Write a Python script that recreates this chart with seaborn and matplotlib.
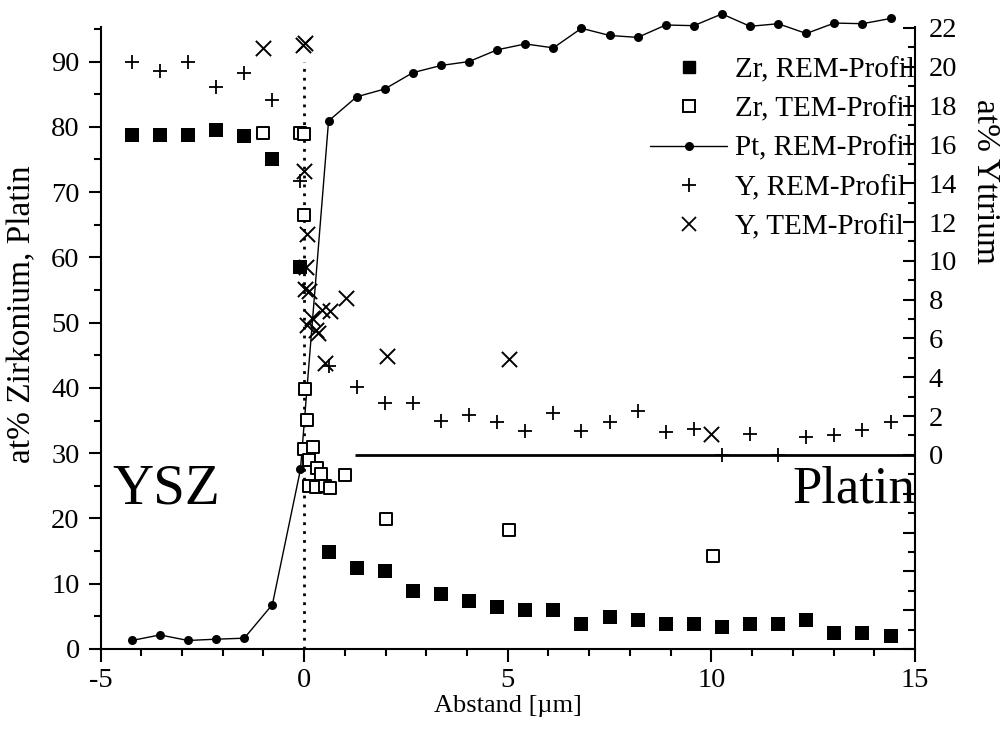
import numpy as np
import pandas as pd
import matplotlib
matplotlib.use("Agg")
import matplotlib.pyplot as plt
import seaborn as sns
from matplotlib.lines import Line2D
from matplotlib.ticker import MultipleLocator, FuncFormatter

sns.set_style("ticks")
plt.rcParams['font.family'] = ['Liberation Serif', 'DejaVu Serif']
for k in ("text.color", "axes.labelcolor", "xtick.color", "ytick.color", "axes.edgecolor"):
    plt.rcParams[k] = "black"

# ---- data ----
rem_x = [-4.23, -3.54, -2.85, -2.16, -1.47, -0.78, -0.09, 0.60, 1.29, 1.98, 2.67, 3.36,
         4.05, 4.74, 5.43, 6.12, 6.81, 7.50, 8.19, 8.88, 9.57, 10.26, 10.95, 11.64,
         12.33, 13.02, 13.71, 14.40]
zr_rem = [78.8, 78.8, 78.8, 79.5, 78.6, 75.0, 58.5, 14.9, 12.4, 12.0, 8.9, 8.4,
          7.4, 6.4, 6.0, 6.0, 3.9, 4.9, 4.4, 3.9, 3.9, 3.4, 3.9, 3.9,
          4.4, 2.4, 2.4, 2.0]
pt_rem = [1.3, 2.15, 1.3, 1.5, 1.65, 6.8, 27.5, 80.9, 84.6, 85.8, 88.3, 89.4,
          90.0, 91.8, 92.7, 92.1, 95.1, 94.0, 93.7, 95.6, 95.5, 97.3, 95.4, 95.8,
          94.3, 95.9, 95.8, 96.6]
y_rem = [20.27, 19.76, 20.27, 18.98, 19.68, 18.3, 14.09, 4.59, 3.49, 2.66, 2.66, 1.75,
         2.06, 1.67, 1.25, 2.18, 1.25, 1.67, 2.27, 1.19, 1.34, 0.0, 1.1, 0.0,
         0.9, 1.0, 1.3, 1.67]

zr_tem_x = [-1.0, -0.09, 0.0, 0.0, 0.03, 0.07, -0.01, 0.21, 0.11, 0.32, 0.42, 0.11,
            0.30, 0.52, 0.63, 1.01, 2.0, 5.02, 10.04]
zr_tem = [79.1, 79.0, 78.9, 66.5, 39.8, 35.1, 30.6, 30.9, 28.9, 27.7, 26.8, 25.0,
          24.8, 24.9, 24.6, 26.7, 19.9, 18.2, 14.3]

y_tem_x = [-1.0, -0.03, 0.03, 0.0, 0.07, 0.05, 0.03, 0.11, 1.03, 0.44, 0.63, 0.19,
           0.07, 0.30, 0.35, 0.52, 2.04, 5.02, 10.0]
y_tem = [20.96, 21.1, 21.2, 14.65, 11.4, 9.68, 8.54, 8.42, 8.08, 7.47, 7.44, 7.05,
         6.7, 6.44, 6.29, 4.73, 5.1, 4.93, 1.08]

labels = ["Zr, REM-Profil", "Zr, TEM-Profil", "Pt, REM-Profil", "Y, REM-Profil", "Y, TEM-Profil"]

df_rem = pd.DataFrame({"x": rem_x, "zr": zr_rem, "pt": pt_rem, "y": y_rem})
df_zt = pd.DataFrame({"x": zr_tem_x, "zr": zr_tem})
df_yt = pd.DataFrame({"x": y_tem_x, "y": y_tem})

FS = 20.5
fig = plt.figure(figsize=(10.01, 7.45), dpi=100)
ax = fig.add_axes([0.1004, 0.1289, 0.8137, 0.8349])
ax2 = ax.twinx()

# vertical dotted line at 0
ax.vlines(0, 0, 90, colors="black", linestyles=(0, (1, 2.2)), linewidth=2, zorder=1)

sns.lineplot(data=df_rem, x="x", y="pt", ax=ax, color="black", linewidth=1.0,
             marker="o", markersize=6.5, markeredgewidth=0, sort=False,
             clip_on=False, zorder=3)
sns.scatterplot(data=df_rem, x="x", y="zr", ax=ax, marker="s", s=90, color="black",
                edgecolor="black", linewidth=0, zorder=4, clip_on=False)
sns.scatterplot(data=df_zt, x="x", y="zr", ax=ax, marker="s", s=72, facecolor="white",
                edgecolor="black", linewidth=1.4, zorder=5, clip_on=False)

ax2.hlines(0, 1.25, 15, colors="black", linewidth=2)
sns.scatterplot(data=df_rem, x="x", y="y", ax=ax2, marker="+", s=110, color="black",
                linewidth=1.3, zorder=4)
sns.scatterplot(data=df_yt, x="x", y="y", ax=ax2, marker="x", s=120, color="black",
                linewidth=1.4, zorder=4)

ax.set_xlim(-5, 15)
ax.set_ylim(0, 95.3)
ax2.set_ylim(-10, 22.05)

ax.xaxis.set_major_locator(MultipleLocator(5))
ax.xaxis.set_minor_locator(MultipleLocator(1))
ax.yaxis.set_major_locator(MultipleLocator(10))
ax.yaxis.set_minor_locator(MultipleLocator(5))
ax2.yaxis.set_major_locator(MultipleLocator(2))
ax2.yaxis.set_minor_locator(MultipleLocator(1))
ax2.yaxis.set_major_formatter(FuncFormatter(lambda v, p: f"{int(round(v))}" if v >= -0.01 else ""))
ax.xaxis.set_major_formatter(FuncFormatter(lambda v, p: f"{int(round(v))}"))

for a in (ax, ax2):
    for s in a.spines.values():
        s.set_linewidth(1.5)
    a.spines["top"].set_visible(False)
ax.spines["right"].set_visible(False)
ax2.spines["left"].set_visible(False)
ax2.spines["bottom"].set_visible(False)

ax.tick_params(axis="both", which="major", direction="out", length=9, width=1.5,
               labelsize=FS, pad=6, colors="black")
ax.tick_params(axis="x", which="major", pad=5)
ax.tick_params(axis="both", which="minor", direction="out", length=5, width=1.5)
ax2.tick_params(axis="y", which="major", direction="in", length=8.5, width=1.5,
                labelsize=FS, pad=10)
ax2.tick_params(axis="y", which="minor", direction="in", length=5.3, width=1.5)

ax.set_xlabel("Abstand [µm]", fontsize=19)
ax.set_ylabel("at% Zirkonium, Platin", fontsize=24)
ax2.set_ylabel("at% Yttrium", fontsize=24, rotation=-90)
for lab in (ax.xaxis.label, ax.yaxis.label, ax2.yaxis.label):
    lab.set_ha("center")
    lab.set_va("center")
    lab.set_rotation_mode("anchor")
ax.xaxis.set_label_coords(0.5, -0.0916)
ax.yaxis.set_label_coords(-0.0964, 0.539)
ax2.yaxis.set_label_coords(1.086, 0.752)

ax.text(-4.72, 24.5, "YSZ", fontsize=41, va="center", ha="left")
ax.text(15, 24.5, "Platin", fontsize=38, va="center", ha="right")

handles = [
    Line2D([], [], ls="none", marker="s", ms=9, mfc="black", mec="black"),
    Line2D([], [], ls="none", marker="s", ms=8.5, mfc="white", mec="black", mew=1.4),
    Line2D([], [], ls="-", lw=1, color="black", marker="o", ms=6.5, mew=0),
    Line2D([], [], ls="none", marker="+", ms=10, color="black", mew=1.3),
    Line2D([], [], ls="none", marker="x", ms=10, color="black", mew=1.3),
]
ax2.legend(handles, labels, loc="upper right", bbox_to_anchor=(1.0, 0.952),
           frameon=False, fontsize=21, labelspacing=0.44, handlelength=2.64,
           handletextpad=0.27, borderaxespad=0, borderpad=0)

fig.savefig("out.png", dpi=100)
